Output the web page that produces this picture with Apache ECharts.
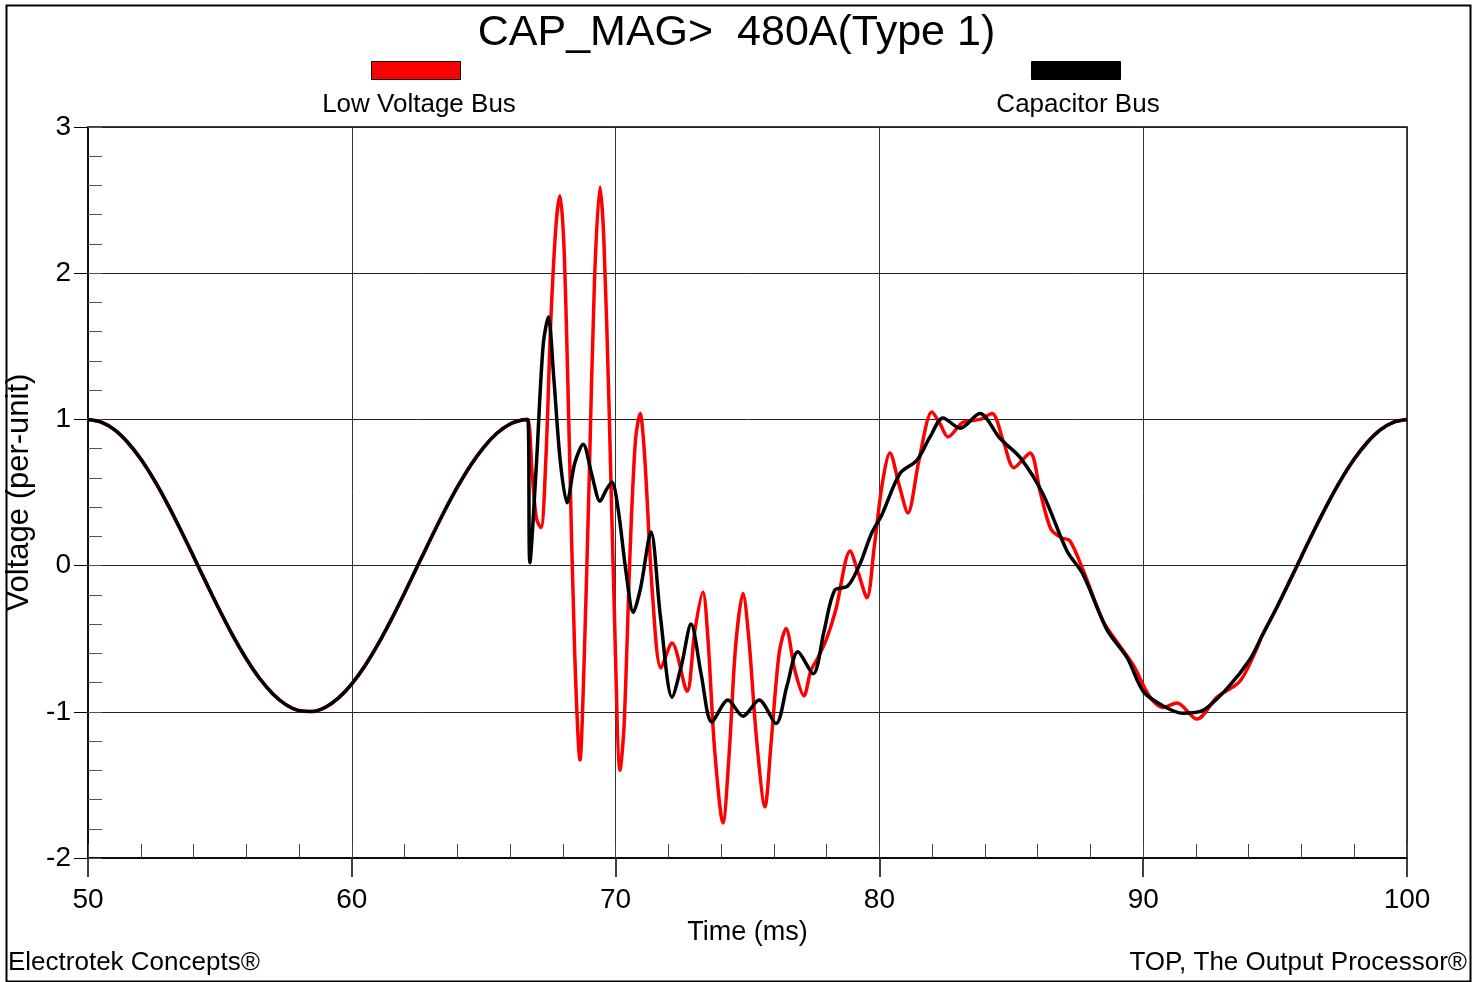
<!DOCTYPE html>
<html>
<head>
<meta charset="utf-8">
<title>CAP_MAG 480A</title>
<script src="https://cdn.jsdelivr.net/npm/echarts@6/dist/echarts.min.js"></script>
<style>
  html, body { margin: 0; padding: 0; background: #fff; }
  #chart { width: 1473px; height: 982px; }
</style>
</head>
<body>
<div id="chart"></div>
<script>
// steady-state part before the switching event (both buses identical)
const steadyTime = [50, 50.5, 51, 51.5, 52, 52.5, 53, 53.5, 54, 54.5, 55, 55.5, 56, 56.5, 57, 57.5, 58, 58.5, 59, 59.5, 60, 60.5, 61, 61.5, 62, 62.5, 63, 63.5, 64, 64.5, 65, 65.5, 66, 66.5, 66.67];
const steadyVolt = [1, 0.982, 0.93, 0.844, 0.729, 0.588, 0.426, 0.249, 0.063, -0.125, -0.309, -0.482, -0.637, -0.771, -0.876, -0.951, -0.992, -0.998, -0.969, -0.905, -0.809, -0.685, -0.536, -0.368, -0.187, 0, 0.187, 0.368, 0.536, 0.685, 0.809, 0.905, 0.969, 0.998, 1];

// low voltage bus transient (red)
const lowTime = [66.84, 67.0, 67.17, 67.35, 67.55, 67.75, 67.89, 68.05, 68.25, 68.45, 68.65, 68.8, 69.0, 69.2, 69.41, 69.55, 69.75, 69.95, 70.17, 70.32, 70.55, 70.75, 70.93, 71.1, 71.4, 71.72, 72.14, 72.71, 73.0, 73.31, 73.5, 73.75, 74.07, 74.3, 74.55, 74.83, 75.05, 75.35, 75.66, 75.9, 76.2, 76.46, 76.8, 77.14, 77.4, 77.67, 78.0, 78.35, 78.89, 79.2, 79.53, 79.8, 80.1, 80.4, 80.75, 81.08, 81.5, 81.99, 82.3, 82.6, 83.17, 83.81, 84.27, 84.7, 85.1, 85.71, 86.1, 86.5, 86.9, 87.22, 87.72, 88.48, 89.0, 89.62, 90.26, 90.76, 91.28, 92.04, 92.8, 93.67, 94.3];
const lowVolt = [0.62, 0.32, 0.26, 0.7, 1.7, 2.35, 2.53, 2.15, 0.8, -0.6, -1.33, -0.7, 0.6, 1.95, 2.59, 2.25, 1.1, -0.3, -1.4, -1.1, 0.1, 0.85, 1.04, 0.75, -0.2, -0.7, -0.53, -0.86, -0.45, -0.18, -0.5, -1.25, -1.76, -1.3, -0.55, -0.19, -0.5, -1.2, -1.65, -1.2, -0.6, -0.43, -0.72, -0.89, -0.72, -0.63, -0.5, -0.3, 0.1, -0.05, -0.22, 0.12, 0.55, 0.77, 0.55, 0.36, 0.72, 1.05, 0.97, 0.88, 0.98, 1.0, 1.04, 0.85, 0.67, 0.77, 0.5, 0.25, 0.19, 0.17, -0.03, -0.38, -0.52, -0.68, -0.9, -0.97, -0.94, -1.05, -0.9, -0.79, -0.57];

// capacitor bus transient (black)
const capTime = [66.75, 67.0, 67.25, 67.45, 67.65, 67.9, 68.16, 68.45, 68.77, 69.1, 69.41, 69.65, 69.86, 70.1, 70.4, 70.67, 70.95, 71.34, 71.7, 72.14, 72.5, 72.86, 73.25, 73.65, 74.26, 74.83, 75.44, 76.08, 76.5, 76.91, 77.49, 77.9, 78.3, 78.8, 79.26, 79.7, 80.1, 80.78, 81.42, 81.92, 82.41, 83.06, 83.81, 84.57, 85.33, 86.2, 87.11, 87.72, 88.63, 89.39, 90.0, 90.76, 91.51, 92.27, 93.18, 94.05];
const capVolt = [0.02, 0.7, 1.5, 1.7, 1.3, 0.72, 0.43, 0.7, 0.83, 0.62, 0.44, 0.52, 0.57, 0.38, -0.05, -0.32, -0.15, 0.23, -0.35, -0.9, -0.68, -0.4, -0.75, -1.07, -0.92, -1.03, -0.92, -1.08, -0.82, -0.59, -0.74, -0.45, -0.17, -0.14, 0.01, 0.22, 0.35, 0.63, 0.72, 0.88, 1.01, 0.94, 1.04, 0.87, 0.74, 0.49, 0.1, -0.06, -0.44, -0.63, -0.86, -0.96, -1.01, -0.99, -0.84, -0.64];

// back to steady state at the end (both buses)
const tailTime = [94.5, 95, 95.5, 96, 96.5, 97, 97.5, 98, 98.5, 99, 99.5, 100];
const tailVolt = [-0.482, -0.309, -0.125, 0.063, 0.249, 0.426, 0.588, 0.729, 0.844, 0.93, 0.982, 1];

const FONT = "'Liberation Sans', Arial, sans-serif";

const pairs = (ts, vs) => ts.map((t, i) => [t, vs[i]]);
const lowData = pairs(steadyTime, steadyVolt).concat(pairs(lowTime, lowVolt), pairs(tailTime, tailVolt));
const capData = pairs(steadyTime, steadyVolt).concat(pairs(capTime, capVolt), pairs(tailTime, tailVolt));

const chart = echarts.init(document.getElementById("chart"));

const option = {
  backgroundColor: "#fff",
  animation: false,
  title: {
    text: "CAP_MAG>  480A(Type 1)",
    left: "center",
    top: 7,
    textStyle: { fontFamily: FONT, fontSize: 43, fontWeight: "normal", color: "#000" },
  },
  grid: {
    left: 88,
    top: 127,
    width: 1319,
    height: 731,
    containLabel: false,
    outerBoundsMode: "none",
    show: true,
    borderColor: "#000",
    borderWidth: 1.5,
  },
  xAxis: [
    {
      type: "value",
      min: 50,
      max: 100,
      interval: 10,
      position: "bottom",
      name: "Time (ms)",
      nameLocation: "middle",
      nameGap: 56,
      nameTextStyle: { fontFamily: FONT, fontSize: 27, color: "#000" },
      axisLine: { show: true, onZero: false, lineStyle: { color: "#000", width: 1.5 } },
      axisTick: { show: true, inside: false, length: 19, lineStyle: { color: "#000", width: 1.5 } },
      axisLabel: { margin: 28, fontFamily: FONT, fontSize: 28, color: "#000" },
      splitLine: { show: true, lineStyle: { color: "#333", width: 1 } },
    },
    {
      type: "value",
      min: 50,
      max: 100,
      interval: 2,
      position: "bottom",
      axisLine: { show: false, onZero: false },
      axisTick: { show: true, inside: true, length: 14, lineStyle: { color: "#444", width: 1 } },
      axisLabel: { show: false },
      splitLine: { show: false },
    },
  ],
  yAxis: [
    {
      type: "value",
      min: -2,
      max: 3,
      interval: 1,
      position: "left",
      name: "Voltage (per-unit)",
      nameLocation: "middle",
      nameGap: 50,
      nameTextStyle: { fontFamily: FONT, fontSize: 31, color: "#000" },
      axisLine: { show: true, onZero: false, lineStyle: { color: "#000", width: 1.5 } },
      axisTick: { show: true, inside: false, length: 14, lineStyle: { color: "#000", width: 1 } },
      axisLabel: { margin: 17, fontFamily: FONT, fontSize: 28, color: "#000" },
      splitLine: { show: true, lineStyle: { color: "#222", width: 1 } },
    },
    {
      type: "value",
      min: -2,
      max: 3,
      interval: 0.2,
      position: "left",
      offset: 0,
      axisLine: { show: false, onZero: false },
      axisTick: { show: true, inside: true, length: 14, lineStyle: { color: "#555", width: 1 } },
      axisLabel: { show: false },
      splitLine: { show: false },
    },
  ],
  graphic: [
    {
      type: "rect",
      left: 4,
      top: 3,
      shape: { width: 1464, height: 976 },
      style: { fill: null, stroke: "#000", lineWidth: 2 },
      silent: true,
    },
    {
      type: "rect",
      left: 371,
      top: 61,
      shape: { width: 89, height: 18 },
      style: { fill: "#ff0000", stroke: "#000", lineWidth: 1 },
    },
    {
      type: "text",
      x: 419,
      y: 105,
      style: { text: "Low Voltage Bus", fill: "#000", font: "26px " + FONT, textAlign: "center", textVerticalAlign: "middle" },
    },
    {
      type: "rect",
      left: 1031,
      top: 61,
      shape: { width: 89, height: 18 },
      style: { fill: "#000", stroke: "#000", lineWidth: 1 },
    },
    {
      type: "text",
      x: 1078,
      y: 105,
      style: { text: "Capacitor Bus", fill: "#000", font: "26px " + FONT, textAlign: "center", textVerticalAlign: "middle" },
    },
    {
      type: "text",
      x: 8,
      y: 963,
      style: { text: "Electrotek Concepts®", fill: "#000", font: "26px " + FONT, textAlign: "left", textVerticalAlign: "middle" },
    },
    {
      type: "text",
      x: 1467,
      y: 963,
      style: { text: "TOP, The Output Processor®", fill: "#000", font: "26px " + FONT, textAlign: "right", textVerticalAlign: "middle" },
    },
  ],
  series: [
    {
      name: "Low Voltage Bus",
      type: "line",
      xAxisIndex: 0,
      yAxisIndex: 0,
      data: lowData,
      showSymbol: false,
      smooth: 0.3,
      lineStyle: { color: "#ff0000", width: 3.5 },
      z: 3,
    },
    {
      name: "Capacitor Bus",
      type: "line",
      xAxisIndex: 0,
      yAxisIndex: 0,
      data: capData,
      showSymbol: false,
      smooth: 0.3,
      lineStyle: { color: "#000", width: 3.5 },
      z: 4,
    },
  ],
};

chart.setOption(option);
window.addEventListener("resize", chart.resize);
</script>
</body>
</html>
